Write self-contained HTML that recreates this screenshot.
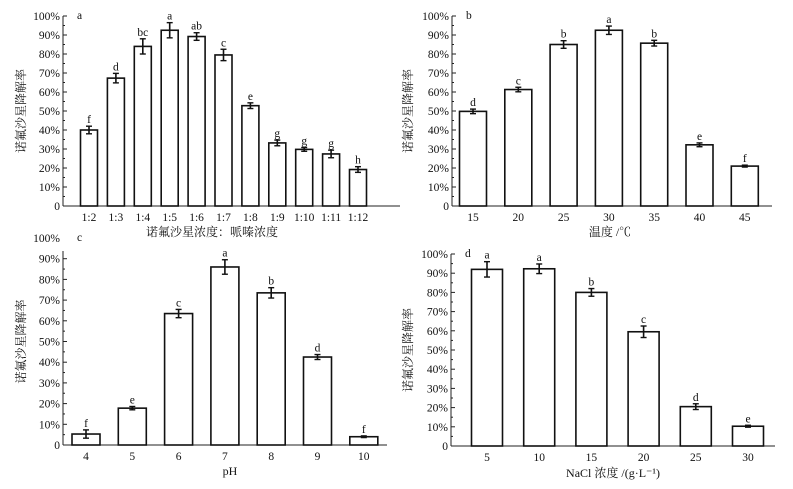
<!DOCTYPE html>
<html><head><meta charset="utf-8">
<style>
html,body{margin:0;padding:0;background:#fff;}
svg{display:block;}
text{font-family:"Liberation Serif","Noto Serif CJK SC","Noto Sans CJK SC",serif;fill:#111;}
</style></head>
<body>
<svg id="s" width="793" height="489" viewBox="0 0 793 489" xmlns="http://www.w3.org/2000/svg"></svg>
<script>
var S=document.getElementById('s');
function el(t,a,txt){var e=document.createElementNS('http://www.w3.org/2000/svg',t);for(var k in a)e.setAttribute(k,a[k]);if(txt!==undefined)e.textContent=txt;S.appendChild(e);return e;}
function panel(p){
  var ppu=(p.y0-p.y100)/100;
  // axes
  el('line',{x1:p.ax,y1:p.y0,x2:p.axEnd,y2:p.y0,stroke:'#222','stroke-width':1});
  el('line',{x1:p.ax,y1:p.y0,x2:p.ax,y2:p.axTop,stroke:'#222','stroke-width':1});
  for(var v=0;v<=p.ymax;v+=5){
    var y=p.y0-v*ppu, major=v%10==0;
    el('line',{x1:p.ax,y1:y,x2:p.ax+(major?4:2),y2:y,stroke:'#222','stroke-width':1});
    if(major) el('text',{x:p.ax-3,y:y+4,'text-anchor':'end','font-size':11.5},v==0?'0':v+'%');
  }
  if(p.extra) el('text',{x:p.ax-3,y:p.y0-100*ppu+4,'text-anchor':'end','font-size':11.5},'100%');
  el('text',{x:p.ax+14,y:p.y100+3,'font-size':11.5},p.tag);
  for(var i=0;i<p.vals.length;i++){
    var cx=p.c0+i*p.step, v=p.vals[i], e=p.err[i], top=p.y0-v*ppu;
    el('rect',{x:cx-p.w/2,y:top,width:p.w,height:p.y0-top,fill:'#fff',stroke:'#111','stroke-width':1.6});
    var yt=p.y0-(v+e)*ppu, yb=p.y0-(v-e)*ppu;
    el('line',{x1:cx,y1:yt,x2:cx,y2:yb,stroke:'#111','stroke-width':1.6});
    el('line',{x1:cx-3,y1:yt,x2:cx+3,y2:yt,stroke:'#111','stroke-width':1.4});
    el('line',{x1:cx-3,y1:yb,x2:cx+3,y2:yb,stroke:'#111','stroke-width':1.4});
    el('text',{x:cx,y:yt-3,'text-anchor':'middle','font-size':11.5},p.lab[i]);
    el('text',{x:cx,y:p.y0+15,'text-anchor':'middle','font-size':11.5},p.cats[i]);
  }
  el('text',{x:p.xlx,y:p.xly,'text-anchor':'middle','font-size':12},p.xl);
  var yc=(p.y0+p.y100)/2;
  el('text',{x:p.ylx,y:yc,'text-anchor':'middle','font-size':12,transform:'rotate(-90 '+p.ylx+' '+yc+')'},'诺氟沙星降解率');
}
panel({ax:63,axEnd:400,axTop:16,y0:206,y100:16,ymax:100,c0:89,step:26.9,w:17,tag:'a',
 vals:[40,67.3,84,92.5,89.2,79.5,52.8,33.2,29.8,27.4,19.2],err:[2,2.5,4,4,2,3,1.5,1.5,1,2,1.5],
 lab:['f','d','bc','a','ab','c','e','g','g','g','h'],cats:['1:2','1:3','1:4','1:5','1:6','1:7','1:8','1:9','1:10','1:11','1:12'],
 xl:'诺氟沙星浓度：哌嗪浓度',xlx:212,xly:236,ylx:25});
panel({ax:452,axEnd:772,axTop:16,y0:206,y100:16,ymax:100,c0:473,step:45.3,w:27,tag:'b',
 vals:[49.8,61.3,85,92.5,85.7,32.2,21],err:[1.2,1.2,2,2.2,1.5,1,0.5],
 lab:['d','c','b','a','b','e','f'],cats:['15','20','25','30','35','40','45'],
 xl:'温度 /℃',xlx:610,xly:236,ylx:412});
panel({ax:63,axEnd:387,axTop:251,y0:445,y100:238,ymax:90,extra:true,c0:86,step:46.3,w:28,tag:'c',
 vals:[5.3,17.8,63.5,86,73.5,42.5,4],err:[2,0.8,2,3.5,2.5,1.2,0.4],
 lab:['f','e','c','a','b','d','f'],cats:['4','5','6','7','8','9','10'],
 xl:'pH',xlx:230,xly:475,ylx:25});
panel({ax:451,axEnd:775,axTop:254,y0:446,y100:254,ymax:100,c0:487,step:52.2,w:31,tag:'d',
 vals:[92,92.3,80,59.5,20.5,10.3],err:[4,2.5,2,3,1.5,0.5],
 lab:['a','a','b','c','d','e'],cats:['5','10','15','20','25','30'],
 xl:'NaCl 浓度 /(g·L⁻¹)',xlx:613,xly:477,ylx:412});
</script>
</body></html>
